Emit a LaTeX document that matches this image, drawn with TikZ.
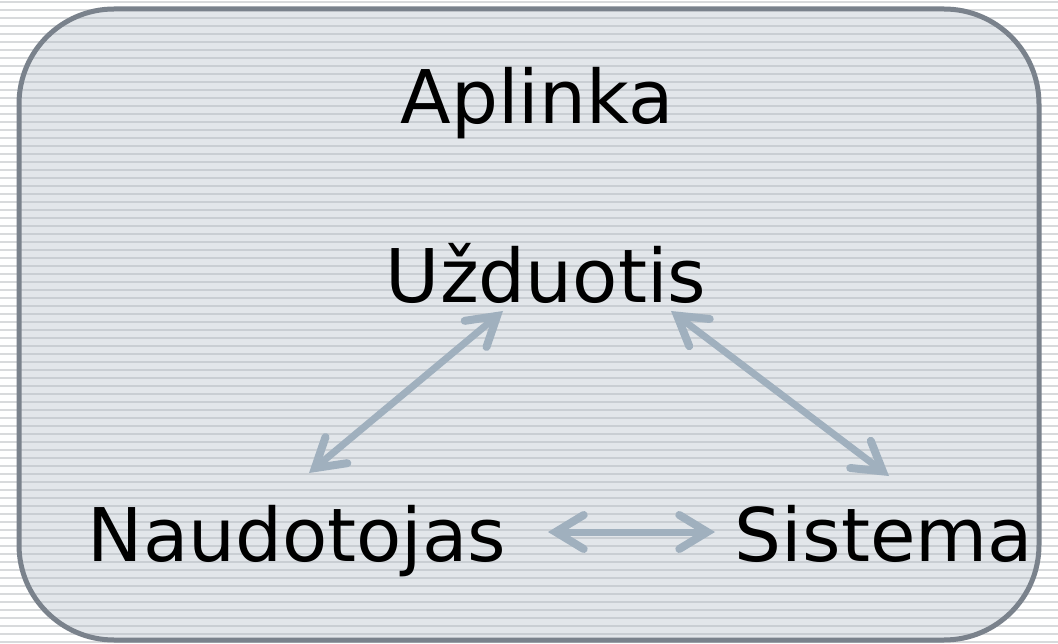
\documentclass[tikz,border=0pt]{standalone}
\usepackage{fontspec}
\setmainfont{DejaVu Sans}
\usetikzlibrary{arrows.meta}
\definecolor{bgline}{HTML}{D8DADC}
\definecolor{boxfill}{HTML}{E2E6EA}
\definecolor{boxline}{HTML}{C9CED3}
\definecolor{boxedge}{HTML}{7A828C}
\definecolor{arrowc}{HTML}{A0B0BE}
\tikzset{
  lbl/.style={font=\fontsize{74}{86}\selectfont, text=black, inner sep=0pt, anchor=base},
  barbtip/.tip={Straight Barb[length=28pt,width=34pt,line width=8pt,line cap=round,line join=miter]},
  conn/.style={draw=arrowc, line width=7pt, line cap=round, barbtip-barbtip}
}
\begin{document}
\begin{tikzpicture}[x=1pt,y=-1pt]
\useasboundingbox (0,0) rectangle (1058,644);
\fill[white] (0,0) rectangle (1058,644);
\foreach \i in {0,...,80} {
  \fill[bgline] (0,{\i*8+1}) rectangle (1058,{\i*8+3});
}
\begin{scope}
  \clip[rounded corners=95pt] (19,9) rectangle (1039,640);
  \fill[boxfill] (0,0) rectangle (1058,644);
  \foreach \i in {0,...,80} {
    \fill[boxline] (0,{\i*8+1}) rectangle (1058,{\i*8+3});
  }
\end{scope}
\draw[boxedge, line width=5pt, rounded corners=95pt] (19,9) rectangle (1039,640);
\node[lbl] (aplinka) at (537,124) {Aplinka};
\node[lbl] (uzd) at (546,303) {Užduotis};
\node[lbl] (naud) at (297,561) {Naudotojas};
\node[lbl] (sis) at (884,561) {Sistema};
\coordinate (a1) at (309,473);
\coordinate (a2) at (503,311);
\coordinate (b1) at (671,311);
\coordinate (b2) at (889,476);
\coordinate (c1) at (548,532);
\coordinate (c2) at (715,532);
\draw[conn] (a1) -- (a2);
\draw[conn] (b1) -- (b2);
\draw[conn] (c1) -- (c2);
\end{tikzpicture}
\end{document}
